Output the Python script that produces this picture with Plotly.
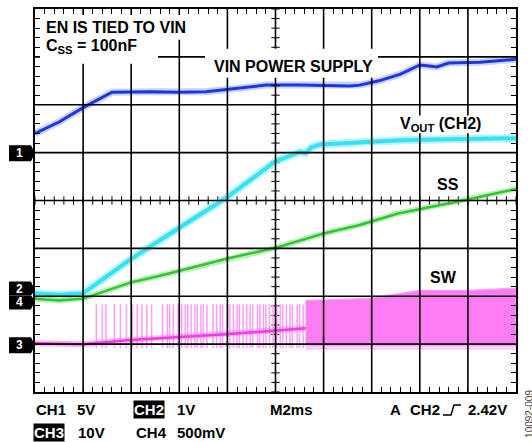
import plotly.graph_objects as go
import numpy as np

# ---------------- data (read from the scope capture) ----------------
# time in ms (M = 2 ms/div, 10 divisions)
# CH1: VIN power supply (5 V/div)
vin_t = [0, 1.0, 2.0, 3.2, 4.8, 6.0, 7.1, 8.0, 8.7, 9.6, 11.0, 12.0, 13.1, 13.5, 14.3, 15.2, 16.0, 16.4, 16.7, 17.2, 18.5, 20]
vin_v = [2.0, 3.2, 4.7, 6.3, 6.35, 6.3, 6.35, 6.6, 6.85, 7.05, 7.05, 7.0, 6.95, 7.05, 7.5, 8.2, 9.15, 9.05, 8.95, 9.35, 9.45, 9.75]

# CH2: VOUT (1 V/div)
vout_t = [0, 1.0, 2.0, 4.0, 6.0, 8.0, 10.0, 11.0, 11.25, 11.5, 11.85, 13.5, 15.2, 17.25, 20]
vout_v = [-0.02, -0.05, -0.02, 0.70, 1.35, 1.99, 2.74, 2.93, 2.91, 3.03, 3.09, 3.14, 3.18, 3.2, 3.22]

# CH4: SS (500 mV/div)
ss_t = [0, 1.0, 2.0, 2.7, 4.0, 5.2, 6.0, 8.0, 10.0, 12.0, 13.5, 15.1, 17.9, 20]
ss_v = [0.01, -0.01, 0.01, 0.07, 0.18, 0.25, 0.30, 0.43, 0.54, 0.69, 0.78, 0.90, 1.04, 1.155]

# CH3: SW (10 V/div)
sw_base_t = [0, 2.0, 3.95, 6.0, 8.1, 10.2, 11.25]
sw_base_v = [0.2, 0.0, 0.85, 1.45, 2.1, 2.9, 3.3]
sw_spike_t = [2.55, 2.8, 2.95, 3.3, 3.55, 3.8, 4.05, 4.25, 4.45, 4.65, 4.85, 5.3, 5.5, 5.6,
              5.75, 5.95, 6.1, 6.25, 6.35, 6.5, 6.65, 6.75, 6.9, 7.0, 7.15, 7.4, 7.55, 7.7,
              7.8, 8.0, 8.1, 8.25, 8.4, 8.5, 8.65, 8.8, 8.95, 9.05, 9.25, 9.35, 9.5, 9.6,
              9.75, 9.9, 10.05, 10.2, 10.3, 10.45, 10.6, 10.7, 10.9, 11.0, 11.15]
sw_spike_hi = 8.3
sw_spike_lo = -0.8
sw_band_t = [11.25, 13.9, 15.0, 16.0, 18.1, 20]
sw_band_hi = [9.1, 9.55, 10.4, 11.2, 11.25, 11.65]
sw_band_lo = [-0.2, -0.2, -0.2, -0.2, -0.2, -0.2]

# channel settings: volts/div and ground marker position (divisions from bottom)
CH_SCALE = {1: 5.0, 2: 1.0, 3: 10.0, 4: 0.5}
CH_GND_DIV = {1: 5.0, 2: 2.08, 3: 1.0, 4: 1.93}
N_XDIV, N_YDIV = 10, 8
T_PER_DIV = 2.0

# ---------------- layout geometry ----------------
W, H = 532, 442
PL, PR, PT, PB = 35, 516, 7, 392
FONT = "Liberation Sans, Arial, Helvetica, sans-serif"


def P(px, py):
    return (px - PL) / (PR - PL), (PB - py) / (PB - PT)


def yrange(ch):
    s, g = CH_SCALE[ch], CH_GND_DIV[ch]
    return [-g * s, (N_YDIV - g) * s]


fig = go.Figure()


def add_trace(t, v, axis, core, halo, wcore, whalo):
    fig.add_trace(go.Scatter(x=t, y=v, yaxis=axis, mode="lines",
                             line=dict(color=halo, width=whalo), hoverinfo="skip"))
    fig.add_trace(go.Scatter(x=t, y=v, yaxis=axis, mode="lines",
                             line=dict(color=core, width=wcore)))


# SW (CH3) - magenta
fig.add_trace(go.Scatter(x=sw_band_t + sw_band_t[::-1],
                         y=[v - 1.0 for v in sw_band_lo] + sw_band_lo[::-1],
                         yaxis="y3", mode="lines", fill="toself",
                         fillcolor="rgba(255,140,240,0.45)", line=dict(width=0)))
sx, sy = [], []
for t in sw_spike_t:
    sx += [t, t, None]
    sy += [sw_spike_lo, sw_spike_hi, None]
fig.add_trace(go.Scatter(x=sx, y=sy, yaxis="y3", mode="lines",
                         line=dict(color="#ff9cf6", width=1.5)))
fig.add_trace(go.Scatter(x=sw_band_t + sw_band_t[::-1], y=sw_band_hi + sw_band_lo[::-1],
                         yaxis="y3", mode="lines", fill="toself",
                         fillcolor="#ff7cf2", line=dict(color="#ff9cf4", width=1.5)))
add_trace(sw_base_t, sw_base_v, "y3", "#ee3ee0", "rgba(255,120,240,0.5)", 2.5, 6)

# SS (CH4) - green
add_trace(ss_t, ss_v, "y4", "#2ec82e", "rgba(110,220,110,0.45)", 2.5, 6)
# VOUT (CH2) - cyan
add_trace(vout_t, vout_v, "y2", "#34e2f2", "rgba(120,235,250,0.55)", 4, 8)
# VIN (CH1) - blue
add_trace(vin_t, vin_v, "y", "#1d36e2", "rgba(100,130,255,0.35)", 3, 7)

# graticule center-line ticks
xr = np.arange(0, 20.001, T_PER_DIV / 5)
ys1 = CH_SCALE[1] / 5
yr = np.arange(yrange(1)[0], yrange(1)[1] + 0.001, ys1)
ymid = yrange(1)[0] + N_YDIV / 2 * CH_SCALE[1]
fig.add_trace(go.Scatter(x=xr, y=[ymid] * len(xr), mode="markers",
                         marker=dict(symbol="line-ns", size=6, line=dict(width=1, color="black"))))
fig.add_trace(go.Scatter(x=[10] * len(yr), y=yr, mode="markers",
                         marker=dict(symbol="line-ew", size=6, line=dict(width=1, color="black"))))

shapes = []
# grid lines (above traces, like the scope)
for k in range(1, N_XDIV):
    x = k / N_XDIV
    shapes.append(dict(type="line", xref="paper", yref="paper", x0=x, x1=x, y0=0, y1=1,
                       line=dict(color="black", width=1.6), layer="above"))
for k in range(1, N_YDIV):
    y = k / N_YDIV
    shapes.append(dict(type="line", xref="paper", yref="paper", x0=0, x1=1, y0=y, y1=y,
                       line=dict(color="black", width=1.6), layer="above"))


def white_box(x0, y0, x1, y1):
    a, b = P(x0, y1)
    c, d = P(x1, y0)
    shapes.append(dict(type="rect", xref="paper", yref="paper", x0=a, y0=b, x1=c, y1=d,
                       fillcolor="white", line=dict(width=0), layer="above"))


white_box(40, 13, 195, 38)
white_box(40, 38, 158, 62)
white_box(205, 47, 378, 76)
white_box(397, 114, 487, 132)


def marker(y0, y1, ytip, label):
    pts = [(9, y0), (31, y0), (35, ytip), (31, y1), (9, y1)]
    path = ""
    for i, (px, py) in enumerate(pts):
        a, b = P(px, py)
        path += ("M" if i == 0 else "L") + f"{a:.5f},{b:.5f} "
    shapes.append(dict(type="path", xref="paper", yref="paper", path=path + "Z",
                       fillcolor="black", line=dict(width=0), layer="above"))
    a, b = P(19, (y0 + y1) / 2)
    return dict(x=a, y=b, xref="paper", yref="paper", text=f"<b>{label}</b>",
                showarrow=False, font=dict(color="white", size=12, family=FONT),
                xanchor="center", yanchor="middle")


annos = []
annos.append(marker(144, 160, 152, "1"))
annos.append(marker(281, 295, 290, "2"))
annos.append(marker(295, 309, 300, "4"))
annos.append(marker(337, 353, 345, "3"))

# trigger edge symbol
pts = [(443, 415), (451, 415), (454, 405), (461, 405)]
path = ""
for i, (px, py) in enumerate(pts):
    a, b = P(px, py)
    path += ("M" if i == 0 else "L") + f"{a:.5f},{b:.5f} "
shapes.append(dict(type="path", xref="paper", yref="paper", path=path,
                   line=dict(color="black", width=1.5)))


def txt(px, py, s, size=16, inv=False):
    a, b = P(px, py)
    d = dict(x=a, y=b, xref="paper", yref="paper", text=f"<b>{s}</b>", showarrow=False,
             xanchor="left", yanchor="middle",
             font=dict(color="white" if inv else "black", size=size, family=FONT))
    if inv:
        d.update(bgcolor="black", borderpad=0)
    annos.append(d)


txt(44, 26, "EN IS TIED TO VIN")
txt(44, 45, "C<sub>SS</sub> = 100nF")
txt(212, 65, "VIN POWER SUPPLY")
txt(398, 123, "V<sub>OUT</sub> (CH2)")
txt(435, 183, "SS")
txt(428, 277, "SW")

txt(34, 410, "CH1", 15)
txt(75, 410, "5V", 15)
txt(133, 410, "CH2", 15, inv=True)
txt(175, 410, "1V", 15)
txt(268, 410, "M2ms", 15)
txt(388, 410, "A", 15)
txt(408, 410, "CH2", 15)
txt(466, 410, "2.42V", 15)
txt(33, 433, "CH3", 15, inv=True)
txt(76, 433, "10V", 15)
txt(134, 433, "CH4", 15)
txt(175, 433, "500mV", 15)

a, b = P(530, 414)
annos.append(dict(x=a, y=b, xref="paper", yref="paper", text="10092-009", showarrow=False,
                  textangle=-90, font=dict(color="#444", size=10, family=FONT),
                  xanchor="center", yanchor="middle"))

axis_common = dict(showline=True, linewidth=2, linecolor="black", mirror="allticks",
                   ticks="inside", ticklen=5, tickwidth=1, tickcolor="black",
                   showgrid=False, zeroline=False, showticklabels=False, fixedrange=True)

fig.update_layout(
    width=W, height=H,
    margin=dict(l=PL, r=W - PR, t=PT, b=H - PB),
    paper_bgcolor="white", plot_bgcolor="white",
    showlegend=False,
    xaxis=dict(range=[0, N_XDIV * T_PER_DIV], dtick=T_PER_DIV,
               minor=dict(dtick=T_PER_DIV / 5, ticks="inside", ticklen=5, tickwidth=1,
                          tickcolor="black"), **axis_common),
    yaxis=dict(range=yrange(1), dtick=CH_SCALE[1],
               minor=dict(dtick=CH_SCALE[1] / 5, ticks="inside", ticklen=5, tickwidth=1,
                          tickcolor="black"), **axis_common),
    yaxis2=dict(range=yrange(2), overlaying="y", visible=False, fixedrange=True),
    yaxis3=dict(range=yrange(3), overlaying="y", visible=False, fixedrange=True),
    yaxis4=dict(range=yrange(4), overlaying="y", visible=False, fixedrange=True),
    shapes=shapes,
    annotations=annos,
)

fig.write_html("out.html", config={"displayModeBar": False},
               post_script="document.body.style.margin='0';document.body.style.overflow='hidden';")
